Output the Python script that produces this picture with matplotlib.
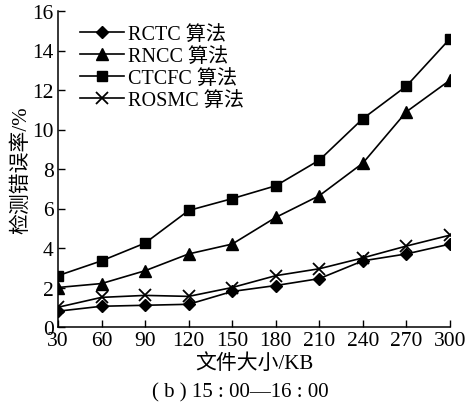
import matplotlib
matplotlib.use("Agg")
import matplotlib.pyplot as plt

# 文件大小 (KB) 与各算法检测错误率 (%)
sizes = [30, 60, 90, 120, 150, 180, 210, 240, 270, 300]
rctc = [0.8, 1.05, 1.1, 1.15, 1.8, 2.1, 2.45, 3.35, 3.7, 4.2]
rncc = [2.0, 2.2, 2.85, 3.7, 4.2, 5.55, 6.65, 8.3, 10.9, 12.5]
ctcfc = [2.6, 3.35, 4.25, 5.9, 6.5, 7.15, 8.45, 10.55, 12.2, 14.6]
rosmc = [1.0, 1.5, 1.6, 1.55, 2.0, 2.6, 2.95, 3.5, 4.1, 4.65]
names = ["RCTC 算法", "RNCC 算法", "CTCFC 算法", "ROSMC 算法"]
yticks = [0, 2, 4, 6, 8, 10, 12, 14, 16]

FONT = ["Liberation Serif", "Noto Sans CJK SC", "DejaVu Sans"]
plt.rcParams["font.family"] = FONT
plt.rcParams["font.size"] = 11

fig = plt.figure(figsize=(4.74, 4.10), dpi=100)
ax = fig.add_axes([58 / 474, 1 - 328 / 410, (450 - 58) / 474, (328 - 12) / 410])

kw = dict(color="black", lw=1.2)
ax.plot(sizes, rctc, marker="D", ms=6.5, label=names[0], **kw)
ax.plot(sizes, rncc, marker="^", ms=8.5, label=names[1], **kw)
ax.plot(sizes, ctcfc, marker="s", ms=6.5, label=names[2], **kw)
ax.plot(sizes, rosmc, marker="x", ms=9, mew=1.3, label=names[3], **kw)

ax.set_xlim(30, 300)
ax.set_ylim(0, 16)
ax.set_xticks(sizes)
ax.set_yticks(yticks)
ax.tick_params(direction="in", length=5, width=1, labelsize=15.5)
ax.tick_params(axis="x", pad=3)
ax.tick_params(axis="y", pad=3)
for s in ("top", "right"):
    ax.spines[s].set_visible(False)
for s in ("left", "bottom"):
    ax.spines[s].set_linewidth(1.1)
ax.patch.set_alpha(0)

ax.set_xlabel("文件大小/KB", fontsize=15, labelpad=2)
ax.set_ylabel("检测错误率/%", fontsize=15, labelpad=1)

ax.legend(loc="upper left", bbox_to_anchor=(0.025, 0.995), frameon=False,
          fontsize=14.5, handlelength=2.2, labelspacing=0.15, handletextpad=0.2,
          borderaxespad=0.2)

fig.text(240 / 474, 1 - 393 / 410, "( b ) 15 : 00—16 : 00", ha="center",
         va="center", fontsize=15)

fig.savefig("out.png", dpi=100)
